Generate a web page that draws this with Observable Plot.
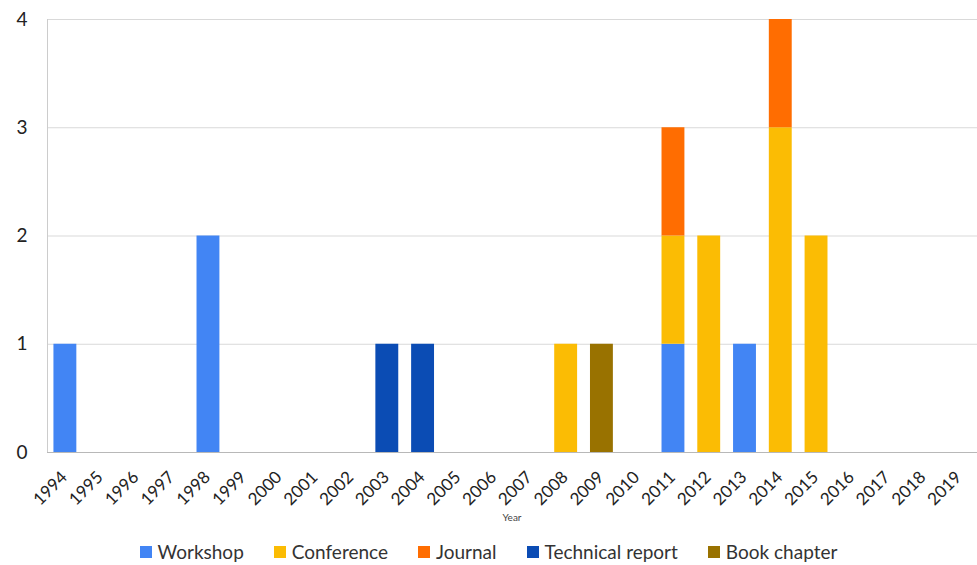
<!DOCTYPE html>
<html>
<head>
<meta charset="utf-8">
<script src="https://cdn.jsdelivr.net/npm/d3@7"></script>
<script src="https://cdn.jsdelivr.net/npm/@observablehq/plot@0.6"></script>
<style>
  html, body { margin: 0; padding: 0; background: #fff; }
  #wrap { position: relative; width: 977px; height: 565px; font-family: Lato, "Open Sans", sans-serif; }
  #year { position: absolute; left: 0; width: 1024px; top: 511px; text-align: center; font-size: 10px; color: #444; }
  #legend { position: absolute; left: 0; width: 977px; top: 540px; display: flex; justify-content: center; gap: 30px; font-size: 19px; color: #333; }
  #legend .item { display: flex; align-items: center; gap: 6px; }
  #legend .sw { width: 12px; height: 12px; display: inline-block; }
</style>
</head>
<body>
<div id="wrap">
  <div id="chart"></div>
  <div id="year">Year</div>
  <div id="legend"></div>
</div>
<script>
const years = ["1994","1995","1996","1997","1998","1999","2000","2001","2002","2003","2004","2005","2006","2007","2008","2009","2010","2011","2012","2013","2014","2015","2016","2017","2018","2019"];
const seriesNames = ["Workshop","Conference","Journal","Technical report","Book chapter"];
const seriesColors = ["#4285F4","#FBBC04","#FF6D01","#0B4CB4","#997200"];
//                     94 95 96 97 98 99 00 01 02 03 04 05 06 07 08 09 10 11 12 13 14 15 16 17 18 19
const workshop      = [1, 0, 0, 0, 2, 0, 0, 0, 0, 0, 0, 0, 0, 0, 0, 0, 0, 1, 0, 1, 0, 0, 0, 0, 0, 0];
const conference    = [0, 0, 0, 0, 0, 0, 0, 0, 0, 0, 0, 0, 0, 0, 1, 0, 0, 1, 2, 0, 3, 2, 0, 0, 0, 0];
const journal       = [0, 0, 0, 0, 0, 0, 0, 0, 0, 0, 0, 0, 0, 0, 0, 0, 0, 1, 0, 0, 1, 0, 0, 0, 0, 0];
const techReport    = [0, 0, 0, 0, 0, 0, 0, 0, 0, 1, 1, 0, 0, 0, 0, 0, 0, 0, 0, 0, 0, 0, 0, 0, 0, 0];
const bookChapter   = [0, 0, 0, 0, 0, 0, 0, 0, 0, 0, 0, 0, 0, 0, 0, 1, 0, 0, 0, 0, 0, 0, 0, 0, 0, 0];
const yTicks = [0, 1, 2, 3, 4];

const seriesValues = [workshop, conference, journal, techReport, bookChapter];
const rows = [];
seriesNames.forEach((name, si) => {
  years.forEach((yr, i) => {
    if (seriesValues[si][i] > 0) rows.push({year: yr, type: name, count: seriesValues[si][i]});
  });
});

const chart = Plot.plot({
  width: 977,
  height: 530,
  marginTop: 19,
  marginBottom: 78,
  marginLeft: 47,
  marginRight: 0,
  style: {fontFamily: "Lato, 'Open Sans', sans-serif", background: "#fff"},
  x: {type: "band", domain: years, paddingInner: 0.36, paddingOuter: 0.18, round: false, label: null},
  y: {domain: [0, 4], label: null},
  color: {domain: seriesNames, range: seriesColors},
  marks: [
    Plot.gridY(yTicks, {stroke: "#d9d9d9", strokeOpacity: 1}),
    Plot.frame({anchor: "left", stroke: "#cccccc"}),
    Plot.barY(rows, {x: "year", y: "count", fill: "type", inset: 0}),
    Plot.ruleY([0], {stroke: "#b8b8b8"}),
    Plot.axisY({ticks: yTicks, tickSize: 0, tickPadding: 20, fontSize: 19, fill: "#222", tickFormat: d => String(d)}),
    Plot.axisX({tickSize: 0, tickPadding: 15, dx: -1, dy: 7, tickRotate: -45, fontSize: 17, fill: "#222"})
  ]
});
document.getElementById("chart").appendChild(chart);

const legend = document.getElementById("legend");
seriesNames.forEach((name, i) => {
  const it = document.createElement("div");
  it.className = "item";
  it.innerHTML = `<span class="sw" style="background:${seriesColors[i]}"></span><span>${name}</span>`;
  legend.appendChild(it);
});
</script>
</body>
</html>
